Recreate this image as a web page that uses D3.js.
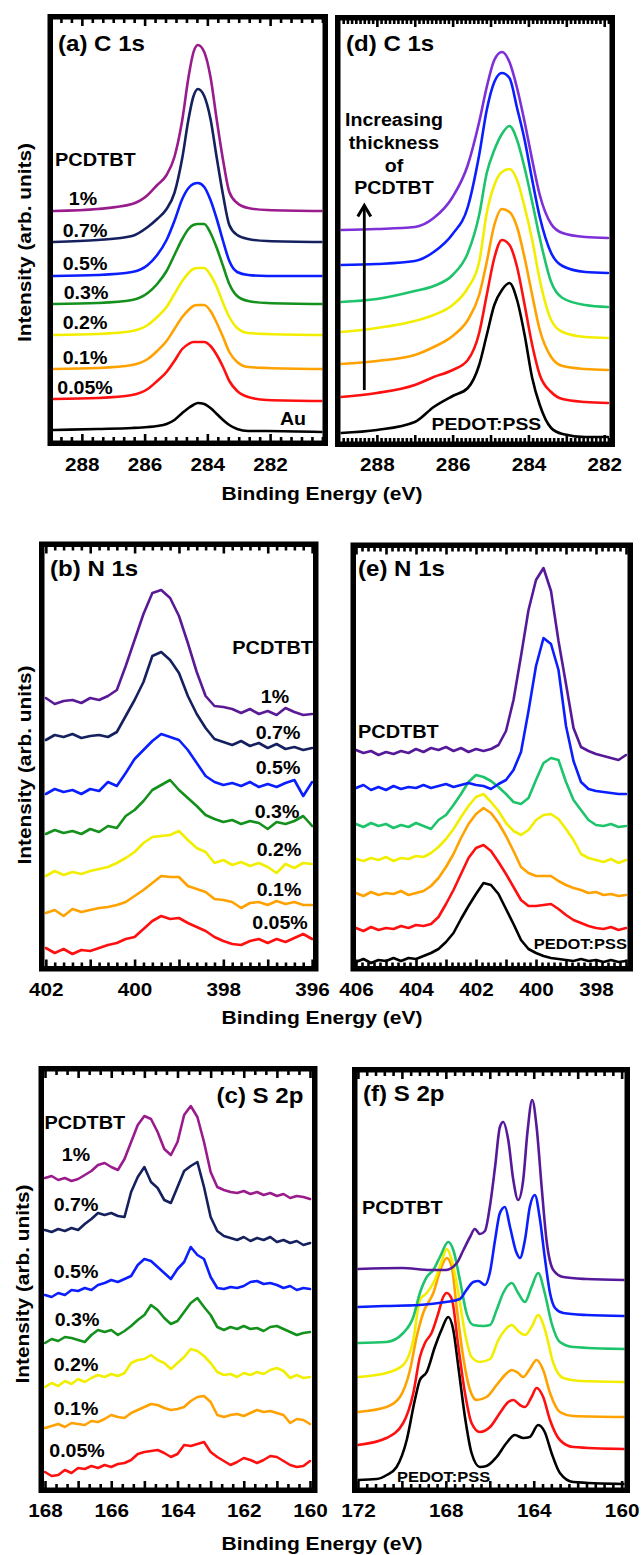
<!DOCTYPE html>
<html><head><meta charset="utf-8">
<script src="https://cdn.jsdelivr.net/npm/d3@7"></script>
<style>
body{margin:0;background:#fff}
svg{display:block}
text{font-family:"Liberation Sans",Arial,Helvetica,sans-serif;font-weight:bold;fill:#000}
</style></head>
<body><svg id="c" width="641" height="1555"></svg>
<script>
// ---------------- DATA ----------------
const pctLabels = ["1%","0.7%","0.5%","0.3%","0.2%","0.1%","0.05%"];
const ticksA = [288,286,284,282], ticksD = [288,286,284,282];
const ticksB = [402,400,398,396], ticksE = [406,404,402,400,398];
const ticksC = [168,166,164,162,160], ticksF = [172,168,164,160];

// (a) C 1s on Au
const E_a = [288.9,287.5,286.4,285.9,285.6,285.3,285.05,284.8,284.6,284.45,284.3,284.1,283.9,283.7,283.5,283.3,283.05,282.7,282.1,280.35];
const a_1    = [230,232,237,246,256,266,284,321,364,388,396,389,364,321,281,249,238,233,231,230];
const a_07   = [199,201,205,214,222,232,248,283,322,344,352,345,322,283,246,216,206,202,200,199];
const a_05   = [165,166,169,176,186,201,220,242,253,257,258,254,241,222,200,180,169,166,165,165];
const a_03   = [137,138,141,148,157,170,186,202,212,216,217,217,208,193,175,157,145,140,138,137];
const a_02   = [106,107,110,116,124,134,147,160,168,172,173,173,166,154,138,124,113,108,107,106];
const a_01   = [72,73,76,82,90,100,112,124,131,135,136,136,130,118,104,89,79,74,73,72];
const a_005  = [42,43,46,52,60,69,80,92,97,99,99,99,95,86,74,60,50,44,41,40];
const a_Au   = [11,12,13,14,15,17,21,28,33,36,38,37,33,27,21,16,12,10,10,9];

// (d) C 1s on PEDOT:PSS
const E_d = [288.95,288,287,286.5,286,285.6,285.3,285.1,284.9,284.7,284.5,284.3,284.1,283.9,283.7,283.4,283.1,282.5,281.9];
const d_1  = [210,211,213,222,243,275,318,353,380,388,378,352,318,280,245,216,207,203,202];
const d_2  = [175,176,179,188,206,233,285,330,358,367,362,332,300,260,223,187,174,168,167];
const d_3  = [138,141,149,154,165,187,225,267,290,306,314,300,272,238,202,158,142,135,133];
const d_4  = [108,112,119,125,135,152,178,227,255,268,271,260,233,200,160,120,108,103,102];
const d_5  = [76,79,85,93,104,120,145,178,215,231,228,213,182,145,110,83,74,71,70];
const d_6  = [43,47,55,63,70,80,107,145,182,200,195,173,135,95,65,48,41,38,37];
const d_P  = [7,10,18,33,44,52,75,105,135,150,157,140,105,62,35,12,6,3,3];

// (b) N 1s on Au
const E_b = [402,401.8,401.6,401.4,401.2,401,400.8,400.6,400.4,400.2,400,399.8,399.6,399.4,399.2,399,398.8,398.6,398.4,398.2,398,397.8,397.6,397.4,397.2,397,396.8,396.6,396.4,396.2,396];
const b_1   = [268,262,265,266,263,268,266,270,276,300,326,352,373,376,368,350,323,294,270,260,259,257,253,257,252,255,251,258,254,251,252];
const b_07  = [226,231,229,232,228,230,231,229,234,250,266,284,310,314,306,293,270,252,238,227,224,221,225,220,223,218,222,217,219,216,218];
const b_05  = [172,177,174,176,172,177,175,184,180,193,207,216,225,232,229,226,216,203,190,184,181,183,180,184,179,182,179,183,186,170,184];
const b_03  = [132,136,133,135,132,137,134,140,138,150,156,165,176,181,186,176,168,160,151,147,144,146,142,145,143,137,144,142,145,150,140];
const b_02  = [90,95,91,94,92,95,97,99,103,108,114,123,129,130,131,135,126,118,114,103,106,101,104,100,103,99,93,102,98,103,102];
const b_01  = [53,56,50,57,54,56,58,59,61,64,70,76,83,90,89,89,80,77,74,67,66,64,58,63,64,61,65,62,64,61,61];
const b_005 = [18,13,17,12,16,15,18,21,23,27,29,37,45,50,47,48,43,39,35,29,25,22,21,25,27,23,27,24,28,32,27];

// (e) N 1s on PEDOT:PSS
const E_e = [406,405.75,405.5,405.25,405,404.75,404.5,404.25,404,403.75,403.5,403.25,403,402.75,402.5,402.25,402,401.75,401.5,401.25,401,400.75,400.5,400.25,400,399.75,399.5,399.25,399,398.75,398.5,398.25,398,397.75,397.5,397.25,397];
const e_1 = [216,213,215,211,214,212,215,213,217,214,218,216,219,215,218,214,217,215,217,221,235,266,310,356,386,398,375,325,282,238,219,215,212,210,208,206,211];
const e_2 = [178,181,176,179,176,180,177,179,178,181,178,180,182,179,181,183,181,180,177,182,186,196,214,255,300,328,322,296,240,205,184,177,175,174,173,172,172];
const e_3 = [142,139,143,140,142,138,141,139,143,140,137,146,151,161,172,184,191,189,185,179,172,164,162,168,186,203,208,206,184,166,156,146,141,140,142,139,140];
const e_4 = [107,105,108,106,109,105,108,107,110,109,113,119,127,137,149,160,169,172,164,155,143,135,131,136,146,151,152,147,137,126,112,108,106,104,107,103,106];
const e_5 = [73,70,74,71,73,72,75,71,73,75,80,88,99,112,128,142,152,158,153,143,130,115,99,93,90,90,90,85,81,78,76,73,74,71,72,70,71];
const e_6 = [38,35,39,36,38,37,40,38,41,40,42,49,62,76,92,108,118,121,115,104,92,79,66,60,60,61,62,57,51,46,43,40,38,37,39,36,38];
const e_P = [4,7,3,6,5,8,5,8,7,10,13,17,24,33,47,60,72,83,81,72,57,42,26,17,13,10,8,7,6,5,7,5,6,4,6,4,5];

// (c) S 2p on Au
const E_c = [168,167.8,167.6,167.4,167.2,167,166.8,166.6,166.4,166.2,166,165.8,165.6,165.4,165.2,165,164.8,164.6,164.4,164.2,164,163.8,163.6,163.4,163.2,163,162.8,162.6,162.4,162.2,162,161.8,161.6,161.4,161.2,161,160.8,160.6,160.4,160.2,160];
const c_1   = [309,311,307,309,306,308,312,316,322,324,320,317,328,345,362,371,368,355,338,332,345,372,381,370,345,315,300,297,295,294,296,293,295,292,294,291,293,289,291,290,288];
const c_07  = [257,255,258,256,259,257,263,268,274,272,274,271,270,295,310,320,305,299,287,284,300,316,321,325,300,270,256,251,249,247,250,246,249,247,250,245,247,244,246,242,244];
const c_05  = [192,190,194,192,197,196,199,197,202,204,207,205,208,211,222,228,226,220,214,208,218,225,240,232,228,210,199,198,200,199,201,205,206,203,204,202,199,201,197,199,198];
const c_03  = [144,148,146,150,149,147,145,152,157,155,157,152,156,161,167,172,182,177,169,163,166,175,184,189,180,172,160,157,160,158,161,158,159,156,160,161,158,155,152,154,155];
const c_02  = [100,104,101,106,103,108,105,109,112,110,113,111,114,124,127,128,132,127,124,118,124,130,138,136,131,124,115,112,113,110,114,112,115,113,117,119,116,109,112,109,110];
const c_01  = [59,61,63,60,64,63,62,66,65,68,72,70,69,74,77,80,83,82,79,77,78,80,86,90,91,85,72,70,72,73,71,74,77,75,76,74,72,64,68,67,63];
const c_005 = [15,11,12,17,14,19,18,21,19,22,20,23,24,27,33,35,36,37,34,30,33,42,41,43,45,35,30,26,22,25,29,27,24,27,31,30,26,22,20,21,26];

// (f) S 2p on PEDOT:PSS  ([binding energy, intensity])
const f_1 = [[172,218],[170,219],[168.7,217],[168,217],[167.5,224],[167.2,237],[166.9,250],[166.68,258],[166.45,253],[166.22,256],[166,280],[165.76,320],[165.54,360],[165.39,365],[165.16,347],[164.93,307],[164.71,287],[164.48,307],[164.29,354],[164.07,387],[163.87,360],[163.64,300],[163.42,247],[163.11,217],[162.66,210],[161.6,208],[159.9,207]];
const f_2 = [[172,180],[170.8,181],[169.2,182],[168,185],[167.36,188],[167.06,197],[166.75,205],[166.52,206],[166.22,202],[166,214],[165.76,247],[165.54,274],[165.31,280],[165.08,260],[164.78,234],[164.63,229],[164.4,247],[164.18,280],[163.95,292],[163.72,268],[163.5,230],[163.26,194],[163.03,179],[162.66,174],[161.6,172],[159.9,171]];
const f_3 = [[172,144],[170.7,145],[169.94,154],[169.48,170],[169.18,194],[168.87,210],[168.57,217],[168.27,230],[167.89,245],[167.66,237],[167.36,207],[167.06,174],[166.75,162],[166.3,161],[165.99,162],[165.69,177],[165.39,194],[165,204],[164.71,194],[164.4,185],[164.1,200],[163.8,214],[163.5,194],[163.19,164],[162.81,145],[162.2,140],[159.9,138]];
const f_4 = [[172,110],[170.7,114],[169.94,122],[169.48,147],[169.18,187],[168.87,194],[168.5,207],[168.2,225],[167.96,238],[167.73,227],[167.43,194],[167.13,154],[166.83,130],[166.45,125],[165.99,128],[165.61,147],[165.31,157],[165,162],[164.71,156],[164.4,152],[164.1,160],[163.8,172],[163.5,158],[163.11,124],[162.66,109],[161.9,106],[159.9,105]];
const f_5 = [[172,75],[170.7,80],[170.09,90],[169.63,117],[169.33,150],[169.03,174],[168.57,194],[168.2,220],[167.96,229],[167.73,220],[167.51,180],[167.21,130],[166.9,97],[166.6,87],[166.15,90],[165.69,102],[165.31,112],[165,117],[164.71,114],[164.48,110],[164.18,118],[163.87,127],[163.57,117],[163.26,94],[162.81,75],[162.2,71],[159.9,70]];
const f_6 = [[172,42],[170.7,49],[169.94,64],[169.48,94],[169.18,130],[168.95,144],[168.65,154],[168.34,174],[168.12,190],[167.96,194],[167.73,188],[167.43,140],[167.13,94],[166.83,64],[166.45,55],[165.99,60],[165.54,74],[165.16,85],[164.93,87],[164.63,82],[164.4,80],[164.1,90],[163.87,99],[163.57,90],[163.26,67],[162.81,47],[162.2,40],[159.9,38]];
const f_P = [[172,7],[171.15,8],[170.69,12],[170.24,20],[169.78,47],[169.41,87],[169.18,107],[168.87,115],[168.5,140],[168.2,157],[167.89,170],[167.66,157],[167.43,120],[167.13,70],[166.83,34],[166.45,20],[166.15,21],[165.69,30],[165.24,44],[164.86,52],[164.48,49],[164.18,50],[163.8,62],[163.5,55],[163.19,34],[162.81,14],[162.2,5],[159.9,3]];

// colours
const colAu  = ["#9a1c8c","#15215e","#0a1eff","#14911c","#f2ee00","#ffa200","#ff1010","#000000"];
const colAuN = ["#5a1a96","#15215e","#0a1eff","#14911c","#f2ee00","#ffa200","#ff1010"];
const colPE  = ["#7d30d8","#0a1eff","#1ec46c","#f2ee00","#ffa200","#ff1010","#000000"];
const colPEN = ["#56199a","#0a1eff","#1ec46c","#f2ee00","#ffa200","#ff1010","#000000"];

// ---------------- DRAWING ----------------
const SX = 1.12;
const svg = d3.select("#c");
const defs = svg.append("defs");

function label(x, y, s, size, anchor, rot) {
  svg.append("text")
    .attr("transform", `translate(${x},${y}) rotate(${rot||0}) scale(${SX},1)`)
    .attr("text-anchor", anchor || "start")
    .attr("dominant-baseline", "central")
    .style("font-size", size + "px")
    .text(s);
}

function tickVals(dom, step) {
  const lo = Math.min(dom[0], dom[1]), hi = Math.max(dom[0], dom[1]);
  const out = [];
  for (let k = Math.ceil(lo / step - 1e-6); k <= Math.floor(hi / step + 1e-6); k++) out.push(+(k * step).toFixed(5));
  return out;
}

function panel(p) {
  const ix0 = p.box[0] + 5.5, ix1 = p.box[1] - 5.5, iy0 = p.box[2] + 5.5, iy1 = p.box[3] - 5.5;
  const x = d3.scaleLinear().domain(p.dom).range([ix0, ix1]);
  const y = d3.scaleLinear().domain([0, 400]).range([p.ref, p.ref - 400]);
  defs.append("clipPath").attr("id", "clip" + p.id)
    .append("rect").attr("x", ix0).attr("y", iy0).attr("width", ix1 - ix0).attr("height", iy1 - iy0);
  const g = svg.append("g").attr("clip-path", `url(#clip${p.id})`);
  const line = d3.line().x(d => x(d[0])).y(d => y(d[1])).curve(p.smooth ? d3.curveMonotoneX : d3.curveLinear);
  // draw bottom trace first, top trace last
  p.series.slice().reverse().forEach(s => {
    const pts = s.pairs ? s.pairs : s.E.map((e, i) => [e, s.v[i]]);
    g.append("path").attr("d", line(pts)).attr("fill", "none")
      .attr("stroke", s.color).attr("stroke-width", 2.6)
      .attr("stroke-linejoin", "round").attr("stroke-linecap", "round");
  });
  // inward ticks top & bottom
  const majors = tickVals(p.dom, p.major);
  const minors = tickVals(p.dom, p.minor).filter(v => Math.abs(v / p.major - Math.round(v / p.major)) > 1e-3);
  [[majors, 7.5], [minors, 4.5]].forEach(([vals, len]) => {
    const top = svg.append("g").attr("transform", `translate(0,${iy0 - 1})`)
      .call(d3.axisTop(x).tickValues(vals).tickSizeInner(-len).tickSizeOuter(0).tickFormat(""));
    const bot = svg.append("g").attr("transform", `translate(0,${iy1 + 1})`)
      .call(d3.axisBottom(x).tickValues(vals).tickSizeInner(-len).tickSizeOuter(0).tickFormat(""));
    [top, bot].forEach(a => {
      a.select(".domain").remove();
      a.selectAll("line").attr("stroke", "#000").attr("stroke-width", 2.6);
    });
  });
  // thick frame
  svg.append("rect").attr("x", p.box[0] + 2.75).attr("y", p.box[2] + 2.75)
    .attr("width", p.box[1] - p.box[0] - 5.5).attr("height", p.box[3] - p.box[2] - 5.5)
    .attr("fill", "none").attr("stroke", "#000").attr("stroke-width", 5.5);
  // tick labels
  const ax = svg.append("g").attr("transform", `translate(0,${p.labelY})`)
    .call(d3.axisBottom(x).tickValues(p.labels).tickSize(0).tickPadding(0).tickFormat(d3.format("d")));
  ax.select(".domain").remove();
  ax.selectAll("text").attr("y", 0).attr("dy", null)
    .attr("dominant-baseline", "central")
    .attr("transform", `scale(${SX},1)`)
    .style("font-size", "18.5px").style("font-weight", "bold")
    .style("font-family", '"Liberation Sans",Arial,sans-serif').style("fill", "#000");
}

const mk = (E, arrs, cols) => arrs.map((v, i) => ({E, v, color: cols[i]}));
const mkP = (arrs, cols) => arrs.map((pairs, i) => ({pairs, color: cols[i]}));

panel({id:"a", box:[47.5,328,14,446], dom:[288.92,280.33], ref:441, major:2, minor:1/3, labels:ticksA, labelY:464, smooth:true,
  series: mk(E_a, [a_1,a_07,a_05,a_03,a_02,a_01,a_005,a_Au], colAu)});
panel({id:"d", box:[335,615,15,447], dom:[288.96,281.86], ref:440, major:1, minor:1/9, labels:ticksD, labelY:464, smooth:true,
  series: mk(E_d, [d_1,d_2,d_3,d_4,d_5,d_6,d_P], colPE)});
panel({id:"b", box:[39,318.5,541.5,971.5], dom:[402.03,395.98], ref:966, major:1, minor:0.2, labels:ticksB, labelY:989, smooth:false,
  series: mk(E_b, [b_1,b_07,b_05,b_03,b_02,b_01,b_005], colAuN)});
panel({id:"e", box:[350.5,633,542.5,971.5], dom:[406,396.95], ref:966, major:1, minor:0.2, labels:ticksE, labelY:989, smooth:false,
  series: mk(E_e, [e_1,e_2,e_3,e_4,e_5,e_6,e_P], colPEN)});
panel({id:"c", box:[38.5,317.5,1066,1493], dom:[168.03,159.94], ref:1487, major:1, minor:1/3, labels:ticksC, labelY:1510, smooth:false,
  series: mk(E_c, [c_1,c_07,c_05,c_03,c_02,c_01,c_005], colAu)});
panel({id:"f", box:[352,630,1067,1493], dom:[172.02,159.87], ref:1487, major:2, minor:0.4, labels:ticksF, labelY:1510, smooth:true,
  series: mkP([f_1,f_2,f_3,f_4,f_5,f_6,f_P], colPEN)});

// ---------------- ANNOTATIONS ----------------
// axis titles
[493, 1017, 1543].forEach(yy => label(322, yy, "Binding Energy (eV)", 18.8, "middle"));
[[24.5,242.5],[24,765],[22.5,1284]].forEach(([xx,yy]) => label(xx, yy, "Intensity (arb. units)", 18.6, "middle", -90));

// panel titles
label(58, 43, "(a) C 1s", 21.5);
label(346, 43, "(d) C 1s", 21.5);
label(50, 568, "(b) N 1s", 21.5);
label(358, 568, "(e) N 1s", 21.5);
label(216.5, 1095, "(c) S 2p", 21.5);
label(363, 1093, "(f) S 2p", 21.5);

// (a) labels
label(55, 160, "PCDTBT", 17.8);
[[83,199],[85,231],[85,264],[86,293],[85,323],[85,358],[85,388]].forEach((p,i) => label(p[0], p[1], pctLabels[i], 17.5, "middle"));
label(293, 419, "Au", 17.5, "middle");

// (d) labels
["Increasing","thickness","of","PCDTBT"].forEach((s,i) => label(394, [120,143.3,165.7,188.3][i], s, 17.5, "middle"));
svg.append("line").attr("x1",364.3).attr("x2",364.3).attr("y1",390).attr("y2",207)
  .attr("stroke","#000").attr("stroke-width",2.8);
svg.append("path").attr("d","M357.8,216.5 L364.3,205.5 L370.8,216.5").attr("fill","none")
  .attr("stroke","#000").attr("stroke-width",3).attr("stroke-linejoin","miter");
label(431.5, 423.5, "PEDOT:PSS", 17.3);

// (b) labels
label(313, 648, "PCDTBT", 17.8, "end");
[[275,697],[278,733],[278,768],[277,812],[279,850],[279,890],[280,923]].forEach((p,i) => label(p[0], p[1], pctLabels[i], 17.5, "middle"));

// (e) labels
label(358, 732, "PCDTBT", 17.8);
label(627, 943.5, "PEDOT:PSS", 14.7, "end");

// (c) labels
label(44.5, 1123, "PCDTBT", 17.8);
[[76,1155],[76,1205],[76,1272],[77,1320],[76,1365],[76,1409],[77,1451]].forEach((p,i) => label(p[0], p[1], pctLabels[i], 17.5, "middle"));

// (f) labels
label(362, 1208, "PCDTBT", 17.8);
label(397, 1477, "PEDOT:PSS", 14.7);
</script>
</body></html>
